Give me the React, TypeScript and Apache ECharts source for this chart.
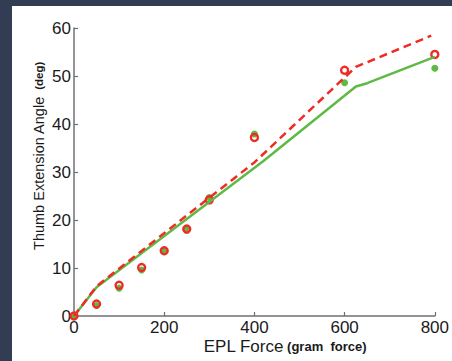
import React, { useEffect, useRef } from "react";
import * as echarts from "echarts";

const forceX = [0, 50, 100, 150, 200, 250, 300, 400, 600, 800];
const redMeasured = [0, 2.5, 6.4, 10.1, 13.6, 18.1, 24.2, 37.2, 51.2, 54.5];
const greenMeasured = [0, 2.2, 5.8, 9.6, 13.5, 18.0, 24.7, 37.9, 48.6, 51.6];

const greenModelX = [0, 50, 420, 625, 650, 800];
const greenModelY = [0, 6, 32.3, 47.8, 48.5, 54];
const redModelX = [0, 50, 400, 625, 792];
const redModelY = [0, 6.2, 32, 51.9, 58.4];

const xTicks = [0, 200, 400, 600, 800];
const yTicks = [0, 10, 20, 30, 40, 50, 60];

const RED = "#ee2b25";
const GREEN = "#5eba45";
const FONT = "Liberation Sans, Arial, sans-serif";

const zip = (a: number[], b: number[]) => a.map((v, i) => [v, b[i]]);

export default function App() {
  const ref = useRef<HTMLDivElement>(null);
  useEffect(() => {
    if (!ref.current) return;
    const chart = echarts.init(ref.current, undefined, { renderer: "svg" });
    chart.setOption({
      animation: false,
      backgroundColor: "#ffffff",
      grid: { left: 62, top: 22, right: 10, bottom: 45, containLabel: false },
      xAxis: {
        type: "value",
        min: xTicks[0],
        max: xTicks[xTicks.length - 1],
        interval: 200,
        axisLine: { show: true, lineStyle: { color: "#707070", width: 1.5 } },
        axisTick: { show: true, inside: true, length: 4, lineStyle: { color: "#707070", width: 1.2 } },
        axisLabel: { color: "#1a1a1a", fontSize: 17, fontFamily: FONT, margin: 3 },
        splitLine: { show: false },
      },
      yAxis: {
        type: "value",
        min: yTicks[0],
        max: yTicks[yTicks.length - 1],
        interval: 10,
        axisLine: { show: true, lineStyle: { color: "#707070", width: 1.5 } },
        axisTick: { show: true, inside: true, length: 4, lineStyle: { color: "#707070", width: 1.2 } },
        axisLabel: { color: "#1a1a1a", fontSize: 17, fontFamily: FONT, margin: 3 },
        splitLine: { show: false },
      },
      graphic: [
        {
          type: "text",
          x: 273,
          y: 340,
          style: {
            text: "{a|EPL Force} {b|(gram  force)}",
            align: "center",
            verticalAlign: "middle",
            rich: {
              a: { fontSize: 17, fontFamily: FONT, fill: "#1a1a1a" },
              b: { fontSize: 13, fontWeight: "bold", fontFamily: FONT, fill: "#1a1a1a" },
            },
          },
        },
        {
          type: "text",
          x: 27,
          y: 150,
          rotation: Math.PI / 2,
          style: {
            text: "{a|Thumb Extension Angle}  {b|(deg)}",
            align: "center",
            verticalAlign: "middle",
            rich: {
              a: { fontSize: 14.5, fontFamily: FONT, fill: "#1a1a1a" },
              b: { fontSize: 11.5, fontWeight: "bold", fontFamily: FONT, fill: "#1a1a1a" },
            },
          },
        },
      ],
      series: [
        {
          type: "line",
          data: zip(greenModelX, greenModelY),
          symbol: "none",
          lineStyle: { color: GREEN, width: 2.5 },
          clip: false,
        },
        {
          type: "line",
          data: zip(redModelX, redModelY),
          symbol: "none",
          lineStyle: { color: RED, width: 2.5, type: [8, 5] },
          clip: false,
        },
        {
          type: "scatter",
          data: zip(forceX, greenMeasured),
          symbol: "circle",
          symbolSize: 7,
          itemStyle: { color: GREEN, opacity: 1 },
          clip: false,
        },
        {
          type: "scatter",
          data: zip(forceX, redMeasured),
          symbol: "circle",
          symbolSize: 7,
          itemStyle: { color: "rgba(0,0,0,0)", borderColor: RED, borderWidth: 2.4, opacity: 1 },
          clip: false,
        },
      ],
    });
    return () => chart.dispose();
  }, []);
  return (
    <div style={{ position: "fixed", left: 0, top: 0, width: 452, height: 361, background: "#323c52", overflow: "hidden" }}>
      <div style={{ position: "absolute", left: 12, top: 6, width: 440, height: 355, background: "#fff" }}>
        <div ref={ref} style={{ width: 440, height: 355 }} />
      </div>
    </div>
  );
}
